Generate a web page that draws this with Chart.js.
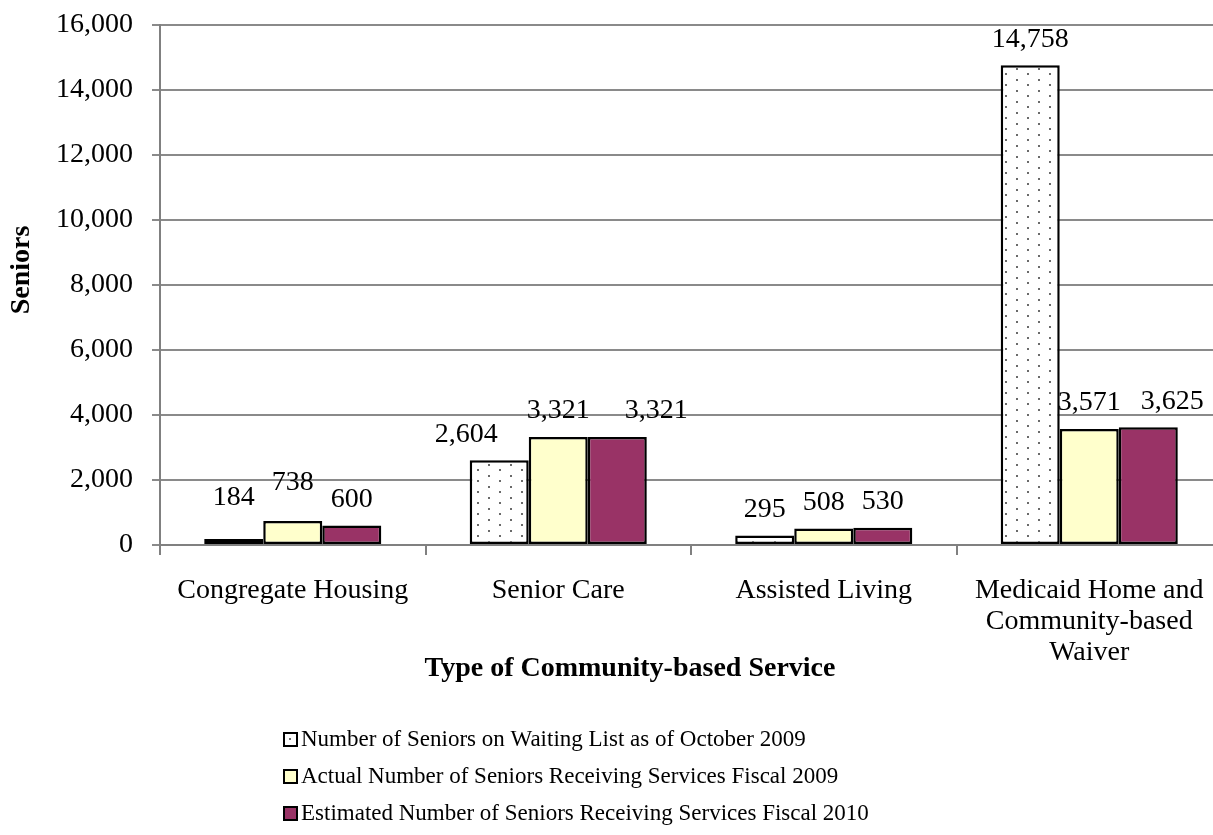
<!DOCTYPE html>
<html>
<head>
<meta charset="utf-8">
<title>Seniors by Type of Community-based Service</title>
<script src="https://cdn.jsdelivr.net/npm/chart.js@4"></script>
<style>
  html, body { margin: 0; padding: 0; background: #ffffff; overflow: hidden; }
  canvas { display: block; }
</style>
</head>
<body>
<canvas id="chart" width="1224" height="835"></canvas>
<script>
// Categories and series values
const categories = [
  'Congregate Housing',
  'Senior Care',
  'Assisted Living',
  ['Medicaid Home and', 'Community-based', 'Waiver']
];
const seriesNames = [
  'Number of Seniors on Waiting List as of October 2009',
  'Actual Number of Seniors Receiving Services Fiscal 2009',
  'Estimated Number of Seniors Receiving Services Fiscal 2010'
];
const waitingList2009 = [184, 2604, 295, 14758];
const receiving2009 = [738, 3321, 508, 3571];
const estimated2010 = [600, 3321, 530, 3625];
const yTicks = [0, 2000, 4000, 6000, 8000, 10000, 12000, 14000, 16000];

const SERIF = "'Liberation Serif', 'Times New Roman', serif";

// Dotted fill for the waiting-list bars
function makeDotPattern() {
  const tile = document.createElement('canvas');
  tile.width = 22;
  tile.height = 11;
  const t = tile.getContext('2d');
  t.fillStyle = '#ffffff';
  t.fillRect(0, 0, 22, 11);
  t.fillStyle = '#6a6a6a';
  t.fillRect(4, 2, 2, 2);
  t.fillRect(15, 7, 2, 2);
  return document.getElementById('chart').getContext('2d').createPattern(tile, 'repeat');
}
const dotPattern = makeDotPattern();

// Small hand nudges for a few value labels that would otherwise crowd
const labelNudge = {
  '0:0': [0, -15],
  '1:0': [0, -12],
  '0:1': [-33, 0],
  '2:1': [39, 0],
  '2:3': [24, 0]
};

const fmt = v => v.toLocaleString('en-US');

// Value labels above each bar
const valueLabels = {
  id: 'valueLabels',
  afterDatasetsDraw(chart) {
    const ctx = chart.ctx;
    ctx.save();
    ctx.font = '28px ' + SERIF;
    ctx.fillStyle = '#000000';
    ctx.textAlign = 'center';
    ctx.textBaseline = 'middle';
    chart.data.datasets.forEach((ds, di) => {
      const meta = chart.getDatasetMeta(di);
      meta.data.forEach((bar, i) => {
        const n = labelNudge[di + ':' + i] || [0, 0];
        ctx.fillText(fmt(ds.data[i]), bar.x + n[0], bar.y - 26 + n[1]);
      });
    });
    ctx.restore();
  }
};

// Axis titles and the stacked legend underneath
const chartText = {
  id: 'chartText',
  afterDraw(chart) {
    const ctx = chart.ctx;
    ctx.save();
    ctx.fillStyle = '#000000';
    ctx.textBaseline = 'middle';

    ctx.font = 'bold 28px ' + SERIF;
    ctx.textAlign = 'center';
    ctx.fillText('Type of Community-based Service', 630, 669);

    ctx.save();
    ctx.translate(22, 270);
    ctx.rotate(-Math.PI / 2);
    ctx.fillText('Seniors', 0, 0);
    ctx.restore();

    ctx.font = '23px ' + SERIF;
    ctx.textAlign = 'left';
    chart.data.datasets.forEach((ds, i) => {
      const y = 739 + i * 37;
      ctx.fillStyle = i === 0 ? '#ffffff' : ds.backgroundColor;
      ctx.fillRect(284, y - 6, 13, 13);
      if (i === 0) {
        ctx.fillStyle = '#6a6a6a';
        ctx.fillRect(289, y - 1, 2, 2);
      }
      ctx.strokeStyle = '#000000';
      ctx.lineWidth = 2;
      ctx.strokeRect(284, y - 6, 13, 13);
      ctx.fillStyle = '#000000';
      ctx.fillText(ds.label, 301, y + 1);
    });
    ctx.restore();
  }
};

new Chart(document.getElementById('chart'), {
  type: 'bar',
  data: {
    labels: categories,
    datasets: [
      { label: seriesNames[0], data: waitingList2009, backgroundColor: dotPattern },
      { label: seriesNames[1], data: receiving2009, backgroundColor: '#ffffcc' },
      { label: seriesNames[2], data: estimated2010, backgroundColor: '#993366' }
    ]
  },
  options: {
    responsive: false,
    devicePixelRatio: 1,
    animation: false,
    layout: { padding: { left: 0, top: 25, right: 2, bottom: 0 } },
    datasets: {
      bar: {
        categoryPercentage: 0.667,
        barPercentage: 1.0,
        borderColor: '#000000',
        borderWidth: 2.5,
        borderSkipped: false
      }
    },
    plugins: {
      legend: { display: false },
      tooltip: { enabled: false },
      title: { display: false }
    },
    scales: {
      x: {
        afterFit(scale) {
          scale.height = 290;
          scale.paddingLeft = 0;
          scale.paddingRight = 0;
        },
        grid: {
          offset: true,
          drawOnChartArea: false,
          drawTicks: true,
          tickLength: 10,
          color: '#808080',
          lineWidth: 2
        },
        border: { color: '#808080', width: 2 },
        ticks: {
          color: '#000000',
          padding: 20,
          maxRotation: 0,
          autoSkip: false,
          font: { family: SERIF, size: 28, lineHeight: 1.107 }
        }
      },
      y: {
        min: 0,
        max: 16000,
        afterFit(scale) {
          scale.width = 160;
          scale.paddingTop = 0;
          scale.paddingBottom = 0;
        },
        afterBuildTicks(scale) { scale.ticks = yTicks.map(v => ({ value: v })); },
        grid: {
          color: '#8a8a8a',
          lineWidth: 2,
          tickLength: 8
        },
        border: { color: '#808080', width: 2 },
        ticks: {
          color: '#000000',
          padding: 19,
          font: { family: SERIF, size: 28 },
          callback: v => fmt(v)
        }
      }
    }
  },
  plugins: [valueLabels, chartText]
});
</script>
</body>
</html>
